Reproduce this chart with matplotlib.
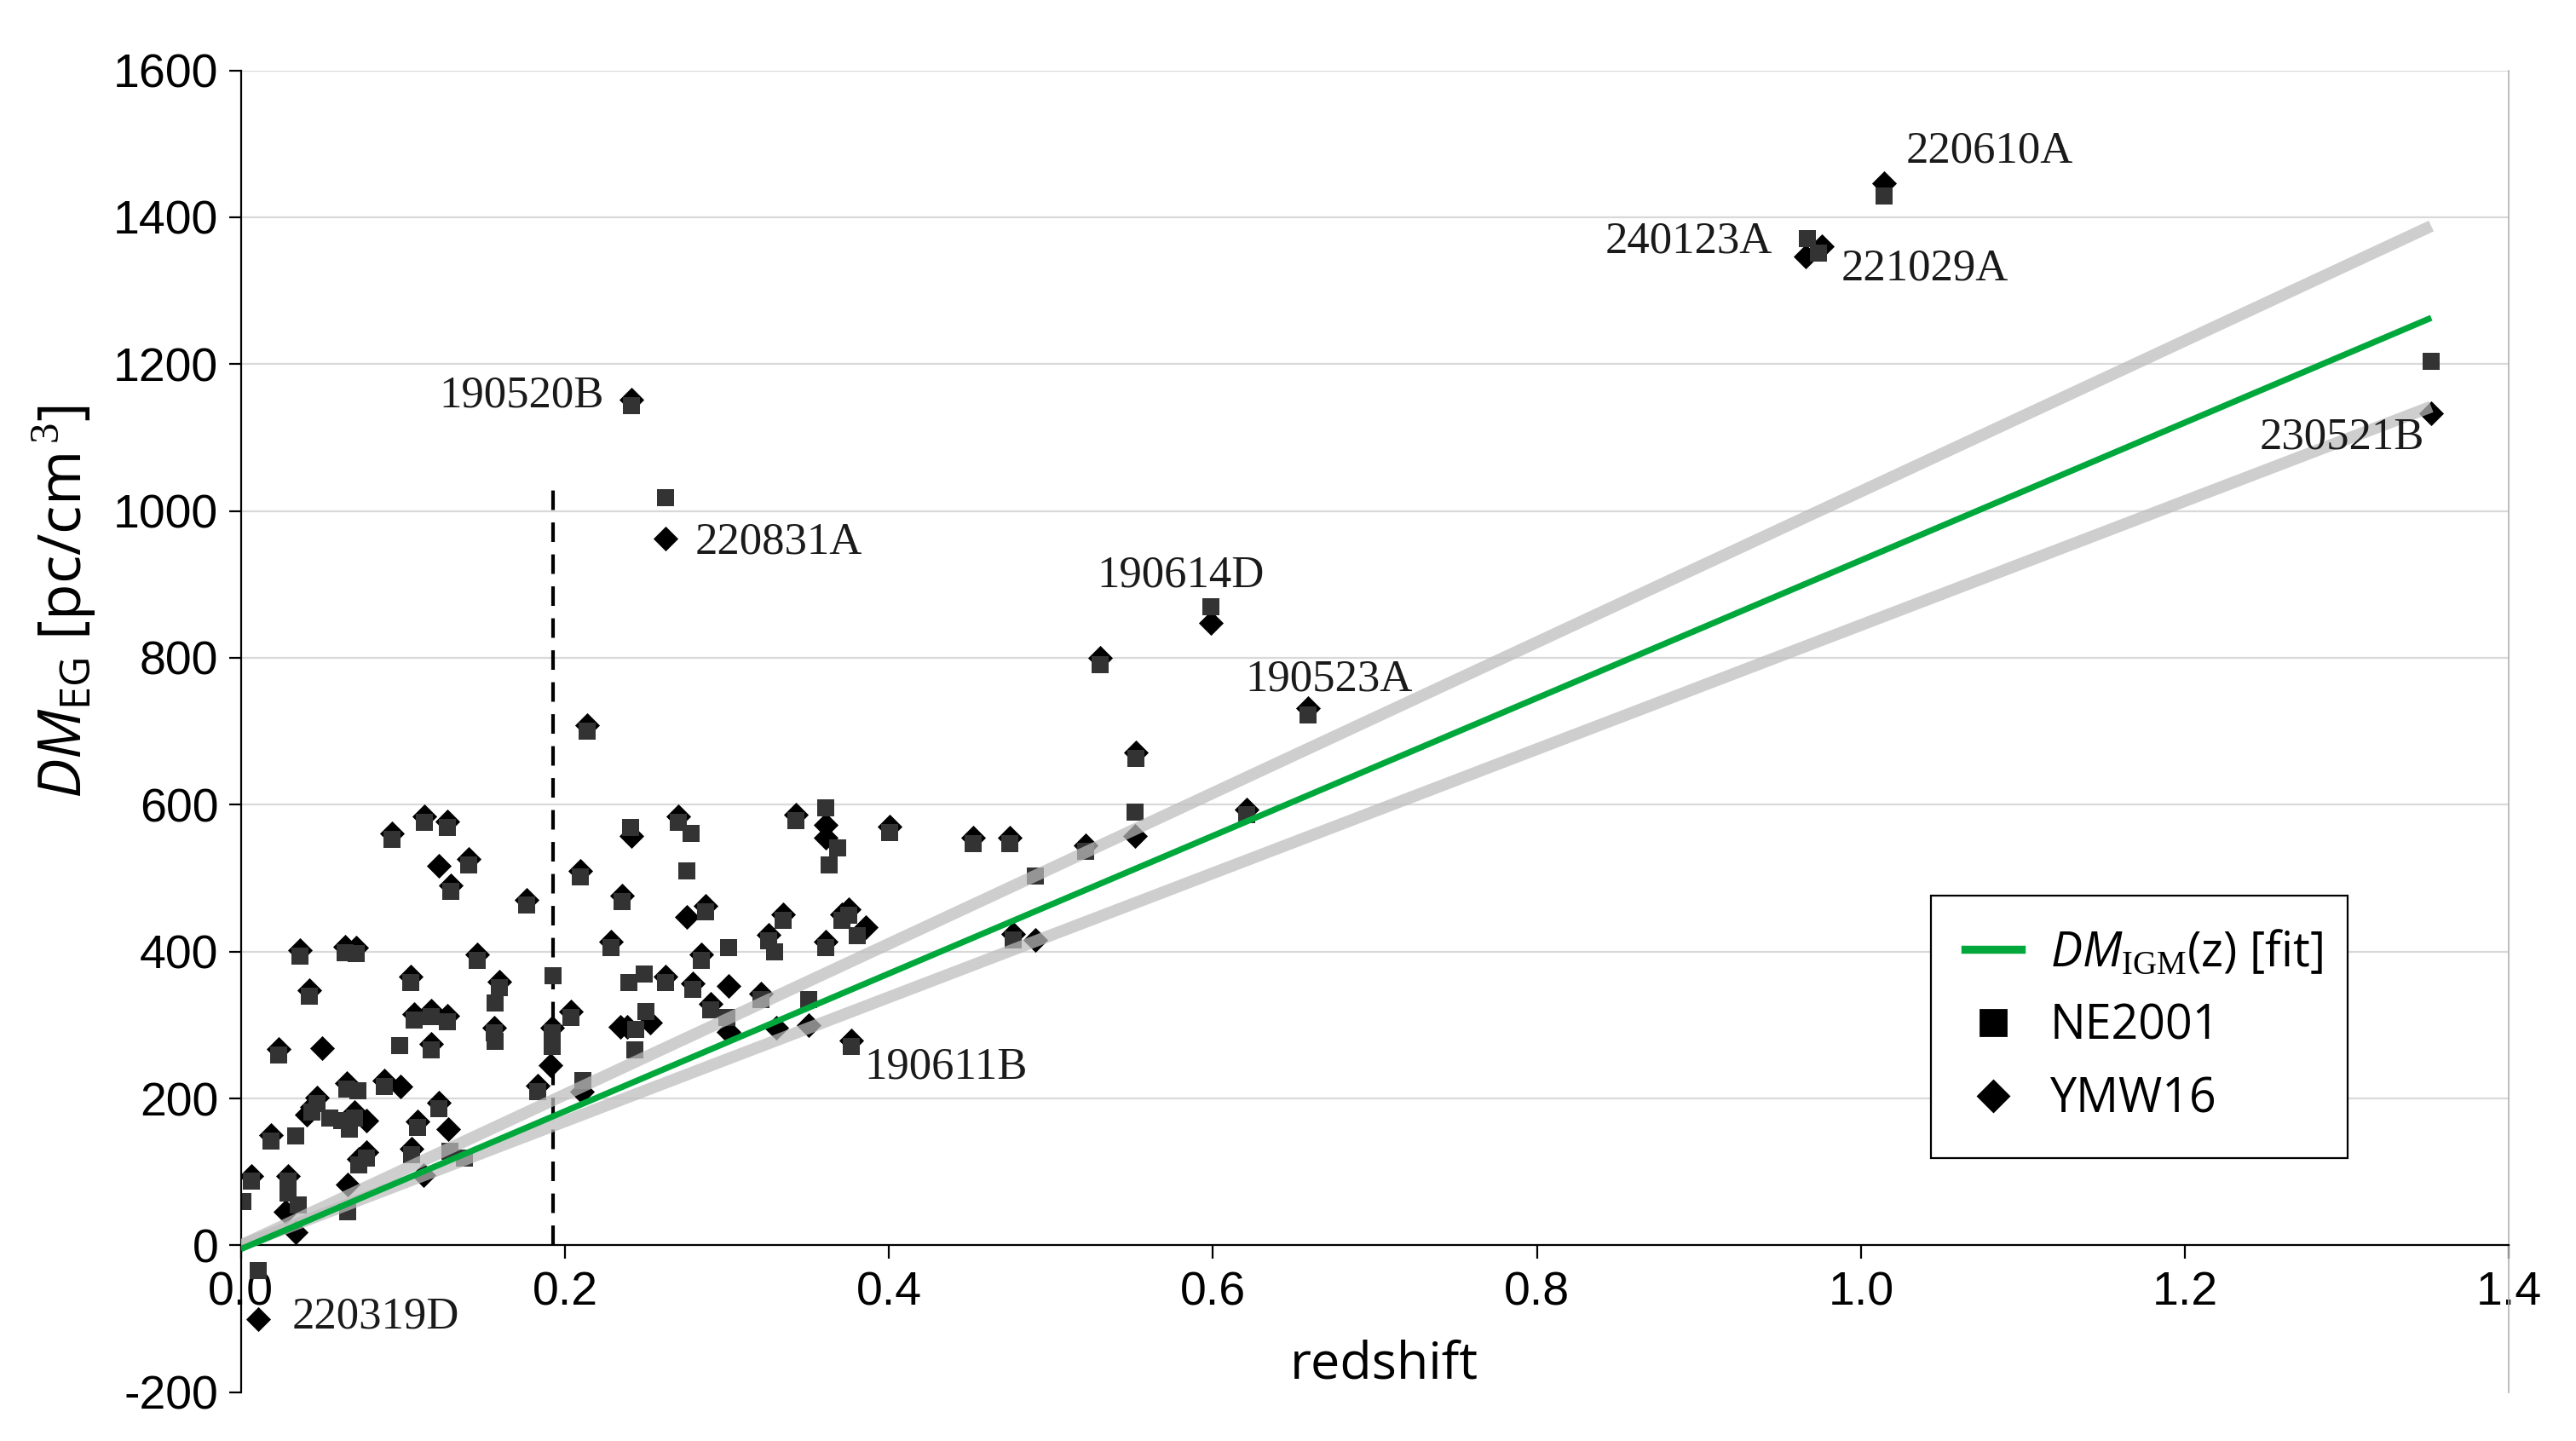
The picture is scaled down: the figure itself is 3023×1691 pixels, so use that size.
import matplotlib
matplotlib.use("Agg")
import matplotlib.pyplot as plt
from matplotlib.lines import Line2D

plt.rcParams['font.family'] = ['Open Sans', 'DejaVu Sans']
plt.rcParams['mathtext.fontset'] = 'custom'
plt.rcParams['mathtext.rm'] = 'Liberation Serif'
plt.rcParams['mathtext.it'] = 'Open Sans:italic'
plt.rcParams['mathtext.sf'] = 'Open Sans'

# NE2001 (squares)
ne_z = [0.0935, 0.1133, 0.1273, 0.1408, 0.1294, 0.1766, 0.0363, 0.0643, 0.0713, 0.1457,
        0.1925, 0.0424, 0.1047, 0.1597, 0.1571, 0.1072, 0.1177, 0.1273, 0.0981, 0.1177,
        0.1566, 0.1571, 0.0231, 0.1834, 0.1922, 0.1922, 0.0725, 0.0652, 0.0888, 0.0468,
        0.0441, 0.0547, 0.0625, 0.0704, 0.0669, 0.0187, 0.0340, 0.1221, 0.1090, 0.1054,
        0.1291, 0.1379, 0.0730, 0.0774, 0.0660, 0.0065, 0.0012, 0.0293, 0.0293, 0.0354,
        0.0109,
        0.2403, 0.2701, 0.2780, 0.3428, 0.3612, 0.3682, 0.3629, 0.4003, 0.2097, 0.2351,
        0.2754, 0.2867, 0.3349, 0.3260, 0.3296, 0.3708, 0.3752, 0.3805, 0.3612, 0.2284,
        0.3011, 0.2841, 0.2394, 0.2491, 0.2619, 0.2789, 0.2035, 0.2500, 0.2438, 0.2430,
        0.2902, 0.2999, 0.3210, 0.3507, 0.3769, 0.2109,
        0.5303, 0.5987, 0.6588, 0.5522, 0.5518, 0.6209, 0.4518, 0.4745, 0.5212, 0.4904,
        0.4768, 0.2412, 0.2619, 0.2135, 0.9670, 0.9740, 1.0145, 1.3520]
ne_dm = [553, 576, 569, 518, 482, 463, 394, 399, 397, 388,
         367, 339, 358, 351, 330, 307, 312, 305, 272, 266,
         289, 278, 259, 209, 271, 289, 211, 213, 216, 193,
         181, 174, 170, 174, 158, 142, 149, 186, 161, 124,
         128, 119, 110, 119, 46, 87, 60, 87, 71, 55,
         -34,
         569, 576, 561, 578, 596, 541, 518, 562, 502, 468,
         510, 454, 443, 415, 400, 443, 450, 422, 406, 406,
         406, 388, 358, 369, 358, 349, 310, 319, 294, 266,
         321, 310, 335, 335, 271, 225,
         791, 870, 722, 663, 590, 586, 547, 547, 537, 503,
         416, 1144, 1018, 700, 1371, 1351, 1429, 1204]

# YMW16 (diamonds)
ymw_z = [0.0935, 0.1133, 0.1273, 0.1408, 0.1294, 0.1766, 0.0363, 0.0643, 0.0713, 0.1457,
         0.0424, 0.1047, 0.1597, 0.1072, 0.1177, 0.1273, 0.1177, 0.1566, 0.0231, 0.1834,
         0.1922, 0.0652, 0.0888, 0.0468, 0.0441, 0.0704, 0.0187, 0.1221, 0.1090, 0.1054,
         0.0730, 0.0774, 0.0065, 0.0293,
         0.1221, 0.0503, 0.0984, 0.1282, 0.0660, 0.1913, 0.0275, 0.0336, 0.1125, 0.0109,
         0.0407, 0.0774,
         0.2701, 0.3428, 0.4003, 0.2097, 0.2351, 0.2867, 0.3349, 0.3260, 0.3708, 0.3752,
         0.3612, 0.2284, 0.2841, 0.2619, 0.2789, 0.2035, 0.2902, 0.3210, 0.3769,
         0.2412, 0.3612, 0.3612, 0.2754, 0.3013, 0.2386, 0.2342, 0.2526, 0.3008, 0.3305,
         0.3507, 0.2105, 0.3856,
         0.5303, 0.6588, 0.5522, 0.6209, 0.4518, 0.4745, 0.5212, 0.4768,
         0.5987, 0.5518, 0.4904,
         0.2412, 0.2619, 0.2135, 0.9660, 0.9760, 1.0145, 1.3520]
ymw_dm = [561, 584, 577, 526, 490, 471, 402, 407, 405, 396,
          347, 366, 359, 315, 320, 313, 274, 297, 267, 217,
          297, 221, 224, 201, 189, 182, 150, 194, 169, 132,
          118, 127, 95, 95,
          517, 269, 216, 158, 83, 245, 46, 18, 96, -100,
          178, 170,
          584, 586, 570, 510, 476, 462, 451, 423, 451, 458,
          414, 414, 396, 366, 357, 318, 329, 343, 279,
          557, 573, 555, 447, 353, 298, 298, 303, 291, 296,
          300, 209, 433,
          800, 731, 671, 594, 555, 555, 545, 424,
          847, 557, 416,
          1151, 963, 708, 1347, 1360, 1446, 1133]

# fit line and band edges
fit_z = [0.0, 1.352]
fit_dm = [-5, 1263]
band_hi_dm = [0, 1388]
band_lo_dm = [0, 1142]

# dashed redshift cut
cut_z = 0.1925
cut_top = 1030

# labelled bursts (text anchors)
lab_names = ['190520B', '220831A', '190614D', '190523A', '190611B',
             '220319D', '240123A', '221029A', '220610A', '230521B']
lab_z = [0.224, 0.2803, 0.580, 0.620, 0.385, 0.0317, 0.9456, 0.9876, 1.0276, 1.348]
lab_dm = [1157, 957, 912, 770, 243, -97, 1367, 1330, 1490, 1100]
lab_ha = ['right', 'left', 'center', 'left', 'left', 'left', 'right', 'left', 'left', 'right']

fig = plt.figure(figsize=(15.115, 8.455), dpi=200)
ax = fig.add_axes([0.0935, 0.0338, 0.974 - 0.0935, 0.9512 - 0.0338])

ax.set_xlim(0, 1.4)
ax.set_ylim(-200, 1600)

yt = list(range(-200, 1601, 200))
ax.hlines([y for y in yt if y > 0], 0, 1.4, color='#d9d9d9', lw=0.8, zorder=0)

ax.plot([cut_z, cut_z], [0, cut_top], color='black', lw=1.5, dashes=(5.5, 3.5), zorder=1)

ax.scatter(ymw_z, ymw_dm, marker='D', s=55, color='black', linewidths=0, zorder=2)
ax.scatter(ne_z, ne_dm, marker='s', s=55, color='#333333', linewidths=0, zorder=2.1)

ax.plot(fit_z, band_hi_dm, color='#bcbcbc', lw=5.0, alpha=0.72, solid_capstyle='butt', zorder=3)
ax.plot(fit_z, band_lo_dm, color='#bcbcbc', lw=5.0, alpha=0.72, solid_capstyle='butt', zorder=3)
ax.plot(fit_z, fit_dm, color='#00a83c', lw=2.6, solid_capstyle='butt', zorder=4)

for name, x, y, ha in zip(lab_names, lab_z, lab_dm, lab_ha):
    ax.text(x, y, name, ha=ha, va='center', fontsize=19, family='Liberation Serif',
            color='#1a1a1a', zorder=5)

ax.spines['top'].set_visible(False)
ax.spines['right'].set_color('#b3b3b3')
ax.spines['right'].set_linewidth(0.6)
ax.spines['left'].set_linewidth(0.8)
ax.spines['bottom'].set_position(('data', 0))
ax.spines['bottom'].set_linewidth(0.8)

xt = [0.0, 0.2, 0.4, 0.6, 0.8, 1.0, 1.2, 1.4]
tickfont = ['Liberation Sans', 'DejaVu Sans']
ax.set_xticks(xt)
ax.set_xticklabels(['%.1f' % v for v in xt], fontsize=20, family=tickfont)
ax.set_yticks(yt)
ax.set_yticklabels([str(v) for v in yt], fontsize=20, family=tickfont)
ax.tick_params(axis='x', direction='out', length=5.8, width=0.8, pad=5)
ax.tick_params(axis='y', direction='out', length=5, width=0.8, pad=4.5)

ax.set_xlabel('redshift', fontsize=22)
ax.xaxis.set_label_coords(0.504, 0.040)
ax.set_ylabel(r'$DM_{\mathsf{EG}}$ [pc/cm$^{\,3}$]', fontsize=25)
ax.yaxis.set_label_coords(-0.063, 0.598)

handles = [Line2D([], [], color='#00a83c', lw=3.4),
           Line2D([], [], marker='s', color='black', ls='none', ms=11),
           Line2D([], [], marker='D', color='black', ls='none', ms=9)]
labels = [r'$DM_{\mathrm{IGM}}$(z) [fit]', 'NE2001', 'YMW16']
leg = ax.legend(handles, labels, loc='upper left', bbox_to_anchor=(0.745, 0.1766, 0.184, 0.1994),
                mode='expand', fontsize=20, frameon=True, fancybox=False, framealpha=1,
                edgecolor='black', borderpad=0.72, labelspacing=0.52, handlelength=1.2,
                handletextpad=0.6, borderaxespad=0)
leg.get_frame().set_linewidth(0.8)

fig.savefig('out.png', dpi=200)
